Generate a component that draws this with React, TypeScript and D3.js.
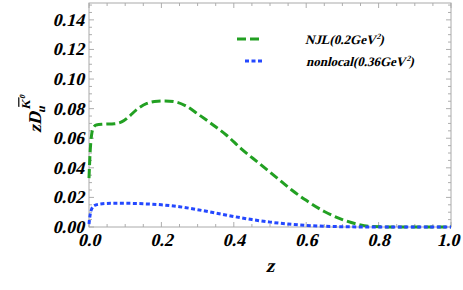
import React from "react"
import * as d3 from "d3"

const zNJL = [0, 0.003, 0.007, 0.012, 0.02, 0.04, 0.07, 0.09, 0.11, 0.13, 0.16, 0.19, 0.21, 0.24, 0.27, 0.3, 0.34, 0.38, 0.42, 0.47, 0.52, 0.56, 0.6, 0.65, 0.7, 0.74, 0.78, 0.85, 1.0]
const vNJL = [0.033, 0.05, 0.062, 0.067, 0.069, 0.0695, 0.0698, 0.071, 0.0745, 0.079, 0.0835, 0.085, 0.0852, 0.0845, 0.0815, 0.0765, 0.0695, 0.062, 0.053, 0.043, 0.033, 0.025, 0.018, 0.0105, 0.005, 0.002, 0.0004, 0, 0]

const zNonlocal = [0, 0.003, 0.007, 0.015, 0.03, 0.06, 0.1, 0.15, 0.2, 0.25, 0.3, 0.35, 0.4, 0.45, 0.5, 0.55, 0.6, 0.65, 0.7, 0.8, 1.0]
const vNonlocal = [0.002, 0.008, 0.012, 0.0145, 0.0155, 0.016, 0.016, 0.0157, 0.015, 0.0137, 0.0117, 0.0094, 0.0071, 0.005, 0.0033, 0.002, 0.0011, 0.0005, 0.0002, 0, 0]

const xTicks = [0, 0.2, 0.4, 0.6, 0.8, 1.0]
const yTicks = [0, 0.02, 0.04, 0.06, 0.08, 0.1, 0.12, 0.14]

const legendLabels = ["NJL(0.2GeV", "nonlocal(0.36GeV"]

const width = 463
const height = 290
const left = 89
const right = 451
const top = 3
const bottom = 227

// Liberation Serif has no bold italic here, so slant the bold face by hand
const txt = { fontFamily: "Liberation Serif", fontWeight: 700 }
const slant = "skewX(-14)"

const Label = (props: { x: number; y: number; size: number; anchor?: string; children: React.ReactNode }) => (
  <text
    transform={`translate(${props.x},${props.y}) ${slant}`}
    fontSize={props.size}
    textAnchor={props.anchor ?? "start"}
    style={txt}
  >
    {props.children}
  </text>
)

export default function App() {
  const x = d3.scaleLinear().domain([0, 1]).range([left, right])
  const y = d3.scaleLinear().domain([0, 0.1514]).range([bottom, top])

  const line = d3
    .line<[number, number]>()
    .x((d) => x(d[0]))
    .y((d) => y(d[1]))
    .curve(d3.curveMonotoneX)

  const njl = line(zNJL.map((z, i) => [z, vNJL[i]]))
  const nonlocal = line(zNonlocal.map((z, i) => [z, vNonlocal[i]]))

  const xMinor = d3.range(0, 1.0001, 0.05)
  const yMinor = d3.range(0, 0.151, 0.005)
  const isMajor = (v: number, step: number) => Math.abs(v / step - Math.round(v / step)) < 1e-6

  const tickColor = "#999"

  return (
    <svg width={width} height={height} style={{ position: "absolute", left: 0, top: 0 }}>
      <rect x={0} y={0} width={width} height={height} fill="#fff" />
      {/* ticks on all four sides, pointing in */}
      {xMinor.map((t, i) => {
        const len = isMajor(t, 0.2) ? 5 : 3
        return (
          <g key={"xt" + i} stroke={tickColor} strokeWidth={0.8}>
            <line x1={x(t)} x2={x(t)} y1={bottom} y2={bottom - len} />
            <line x1={x(t)} x2={x(t)} y1={top} y2={top + len} />
          </g>
        )
      })}
      {yMinor.map((t, i) => {
        const len = isMajor(t, 0.02) ? 5 : 3
        return (
          <g key={"yt" + i} stroke={tickColor} strokeWidth={0.8}>
            <line x1={left} x2={left + len} y1={y(t)} y2={y(t)} />
            <line x1={right} x2={right - len} y1={y(t)} y2={y(t)} />
          </g>
        )
      })}
      <rect x={left} y={top} width={right - left} height={bottom - top} fill="none" stroke="#aaa" strokeWidth={1} />

      <path d={njl ?? ""} fill="none" stroke="#22a022" strokeWidth={3} strokeDasharray="9,4" />
      <path d={nonlocal ?? ""} fill="none" stroke="#2448ff" strokeWidth={3} strokeDasharray="4,2.5" />

      {xTicks.map((t) => (
        <Label key={"xl" + t} x={t === 1 ? x(t) - 3 : x(t)} y={246} size={18} anchor="middle">
          {t.toFixed(1)}
        </Label>
      ))}
      {yTicks.map((t) => (
        <Label key={"yl" + t} x={84} y={y(t) + 6} size={18} anchor="end">
          {t.toFixed(2)}
        </Label>
      ))}

      <Label x={(left + right) / 2} y={272} size={19} anchor="middle">
        z
      </Label>

      <text transform={`translate(41,133) rotate(-90) ${slant}`} fontSize={18} style={txt}>
        zD
        <tspan fontSize={12} dy={4} dx={0}>u</tspan>
        <tspan fontSize={12} dy={-15} dx={-7} textDecoration="overline">K</tspan>
        <tspan fontSize={8} dy={-5}>0</tspan>
      </text>

      <line x1={237} x2={262} y1={39} y2={39} stroke="#22a022" strokeWidth={3} strokeDasharray="9,4" />
      <line x1={245} x2={262} y1={61} y2={61} stroke="#2448ff" strokeWidth={3} strokeDasharray="4,2.5" />
      <Label x={305} y={44} size={13}>
        {legendLabels[0]}
        <tspan fontSize={8} dy={-5}>2</tspan>
        <tspan dy={5}>)</tspan>
      </Label>
      <Label x={306} y={66} size={13}>
        {legendLabels[1]}
        <tspan fontSize={8} dy={-5}>2</tspan>
        <tspan dy={5}>)</tspan>
      </Label>
    </svg>
  )
}
